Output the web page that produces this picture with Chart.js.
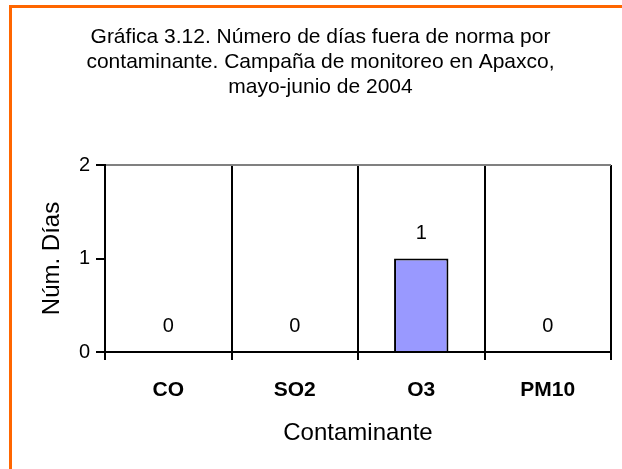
<!DOCTYPE html>
<html>
<head>
<meta charset="utf-8">
<script src="https://cdn.jsdelivr.net/npm/chart.js@4/dist/chart.umd.min.js"></script>
<style>
html,body{margin:0;padding:0;background:#fff;}
canvas{display:block;}
</style>
</head>
<body>
<canvas id="c" width="622" height="469"></canvas>
<script>
const categories = ['CO', 'SO2', 'O3', 'PM10'];
const diasFueraNorma = [0, 0, 1, 0];
const yTicks = [0, 1, 2];
const titleLines = ['Gráfica 3.12. Número de días fuera de norma por', 'contaminante. Campaña de monitoreo en Apaxco,', 'mayo-junio de 2004'];
const FONT = '"Liberation Sans", Arial, sans-serif';

const framePlugin = {
  id: 'frame',
  beforeDraw(chart) {
    const ctx = chart.ctx;
    ctx.save();
    ctx.fillStyle = '#fff';
    ctx.fillRect(0, 0, chart.width, chart.height);
    ctx.strokeStyle = '#FF6600';
    ctx.lineWidth = 3;
    ctx.beginPath();
    ctx.moveTo(10.5, chart.height + 5);
    ctx.lineTo(10.5, 6.5);
    ctx.lineTo(chart.width + 5, 6.5);
    ctx.stroke();
    ctx.restore();
  }
};

const labelPlugin = {
  id: 'valueLabels',
  afterDatasetsDraw(chart) {
    const ctx = chart.ctx;
    const meta = chart.getDatasetMeta(0);
    ctx.save();
    ctx.font = '20px ' + FONT;
    ctx.fillStyle = '#000';
    ctx.textAlign = 'center';
    ctx.textBaseline = 'alphabetic';
    meta.data.forEach((el, i) => {
      ctx.fillText(String(diasFueraNorma[i]), el.x, el.y - 20);
    });
    ctx.restore();
  }
};

new Chart(document.getElementById('c'), {
  type: 'bar',
  data: {
    labels: categories,
    datasets: [{
      data: diasFueraNorma,
      backgroundColor: '#9999FF',
      borderColor: '#000',
      borderWidth: 2,
      barPercentage: 0.43,
      categoryPercentage: 1
    }]
  },
  options: {
    responsive: false,
    animation: false,
    layout: { padding: { left: 30, right: 11, top: 0, bottom: 0 } },
    plugins: {
      legend: { display: false },
      tooltip: { enabled: false },
      title: {
        display: true,
        text: titleLines,
        color: '#000',
        font: { family: FONT, size: 21, weight: 'normal', lineHeight: 25 / 21 },
        padding: { top: 24.5, bottom: 65.5 }
      }
    },
    scales: {
      x: {
        offset: true,
        afterFit(scale) { scale.height = 469 - 352; },
        grid: {
          offset: true,
          drawOnChartArea: true,
          tickLength: 8,
          lineWidth: 2,
          color: (c) => (c.index === categories.length ? '#808080' : '#000'),
          tickColor: '#000'
        },
        border: { display: true, color: '#000', width: 2 },
        ticks: {
          color: '#000',
          padding: 18,
          font: { family: FONT, size: 21, weight: 'bold' }
        },
        title: {
          display: true,
          text: 'Contaminante',
          color: '#000',
          font: { family: FONT, size: 24, weight: 'normal' },
          padding: { top: 0, bottom: 21.5 }
        }
      },
      y: {
        min: 0,
        max: 2,
        afterFit(scale) { scale.width = 75; },
        afterBuildTicks(scale) { scale.ticks = yTicks.map(v => ({ value: v })); },
        grid: {
          drawOnChartArea: true,
          tickLength: 9,
          lineWidth: 2,
          color: (c) => (c.tick && c.tick.value === 2 ? '#808080' : 'rgba(0,0,0,0)'),
          tickColor: '#000'
        },
        border: { display: true, color: '#000', width: 2 },
        ticks: {
          color: '#000',
          padding: 6,
          font: { family: FONT, size: 20 },
          callback: (v) => String(v)
        },
        title: {
          display: true,
          text: 'Núm. Días',
          color: '#000',
          font: { family: FONT, size: 24, weight: 'normal' },
          padding: { top: 7.5, bottom: 0 }
        }
      }
    }
  },
  plugins: [framePlugin, labelPlugin]
});
</script>
</body>
</html>
